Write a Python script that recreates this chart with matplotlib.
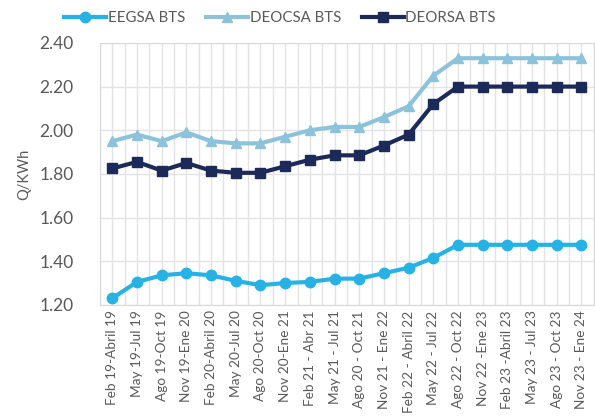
import numpy as np
import matplotlib.pyplot as plt

plt.rcParams['font.family'] = ['Lato', 'DejaVu Sans']

periods = ["Feb 19-Abril 19", "May 19-Jul 19", "Ago 19-Oct 19", "Nov 19-Ene 20",
           "Feb 20-Abril 20", "May 20-Jul 20", "Ago 20-Oct 20", "Nov 20-Ene 21",
           "Feb 21 - Abr 21", "May 21 - Jul 21", "Ago 20 - Oct 21", "Nov 21 - Ene 22",
           "Feb 22 - Abril 22", "May 22 - Jul 22", "Ago 22 - Oct 22", "Nov 22 -Ene 23",
           "Feb 23 -Abril 23", "May 23 - Jul 23", "Ago 23 - Oct 23", "Nov 23 - Ene 24"]

eegsa = [1.23, 1.305, 1.335, 1.345, 1.335, 1.31, 1.29, 1.30, 1.305, 1.32,
         1.32, 1.345, 1.37, 1.415, 1.475, 1.475, 1.475, 1.475, 1.475, 1.475]
deocsa = [1.95, 1.98, 1.95, 1.99, 1.95, 1.94, 1.94, 1.97, 2.00, 2.015,
          2.015, 2.06, 2.11, 2.25, 2.33, 2.33, 2.33, 2.33, 2.33, 2.33]
deorsa = [1.825, 1.855, 1.815, 1.85, 1.815, 1.805, 1.805, 1.835, 1.865, 1.885,
          1.885, 1.93, 1.98, 2.12, 2.20, 2.20, 2.20, 2.20, 2.20, 2.20]

text_col = '#595959'
grid_col = '#e3e3e3'

fig = plt.figure(figsize=(5.95, 4.17), dpi=100)
ax = fig.add_axes([0.168, 0.269, 0.83, 0.628])

x = np.arange(len(periods))
ax.plot(x, eegsa, color='#27b2e6', lw=3, marker='o', ms=7.5, label='EEGSA BTS')
ax.plot(x, deocsa, color='#8cc3da', lw=3, marker='^', ms=7.5, label='DEOCSA BTS')
ax.plot(x, deorsa, color='#1b2a59', lw=3, marker='s', ms=7.5, label='DEORSA BTS')

ax.set_xlim(-0.5, len(periods) - 0.5)
ax.set_ylim(1.2, 2.4)
ax.set_yticks(np.arange(1.2, 2.41, 0.2))
ax.set_yticklabels([f'{v:.2f}' for v in np.arange(1.2, 2.41, 0.2)])
ax.set_xticks(x)
ax.set_xticklabels(periods, rotation=90)
ax.set_xticks(np.arange(-0.5, len(periods), 1.0), minor=True)

ax.grid(True, which='both', color=grid_col, lw=1)
ax.set_axisbelow(True)
ax.tick_params(axis='both', which='both', length=0, colors=text_col)
ax.tick_params(axis='y', labelsize=12.5, pad=19)
ax.tick_params(axis='x', labelsize=9.8, pad=4)
for s in ax.spines.values():
    s.set_color('#d9d9d9')

ax.set_ylabel('Q/KWh', color=text_col, fontsize=10.5, labelpad=6)

ax.legend(loc='center', bbox_to_anchor=(0.365, 1.095), ncol=3, frameon=False,
          fontsize=10.8, labelcolor=text_col, handlelength=2.8, handletextpad=0.1,
          columnspacing=1.4)

fig.savefig('out.png', dpi=100)
